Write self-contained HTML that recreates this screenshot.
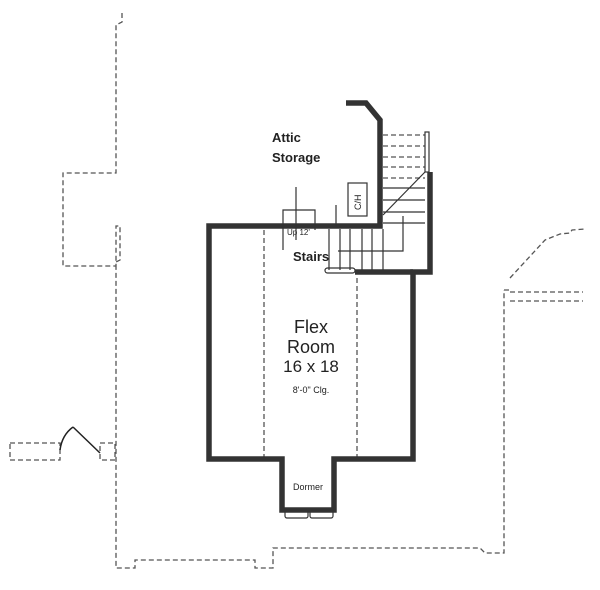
<!DOCTYPE html><html><head><style>body{margin:0;background:#fff}svg{display:block}text{font-family:"Liberation Sans",sans-serif;fill:#222}</style></head><body>
<svg width="600" height="590" viewBox="0 0 600 590" xmlns="http://www.w3.org/2000/svg">
<g fill="none" stroke="#555" stroke-width="1.3" stroke-dasharray="5,3">
<path d="M122 13V22L116 25V173H63V266H116V226H120V260L116 262V568H135V560H137L255 560V568H273V548H480L485 553H504V290"/>
<path d="M510 278L545 240L560 234L570 233L572 230L585 229"/>
<path d="M510 292H583M510 301H583M504 290L512 290"/>
<path d="M264 230V459M357 278V459"/>
<path d="M10 443H60V460H10Z M100 443H115V460H100Z"/>
<path d="M383 135H425M383 146H425M383 157H425M383 167H425M383 178H425"/>
</g>
<path d="M73 427Q62 435 60 450M73 427L100 453" stroke="#222" stroke-width="1.5" fill="none"/>
<g fill="none" stroke="#333" stroke-width="5.5" stroke-linejoin="miter">
<path d="M346 103H366L380 120V226H209V459H282V510H334V459H413V272H430V172"/>
<path d="M355 272H413"/>
</g>
<g fill="none" stroke="#333" stroke-width="1.2">
<path d="M383 188H425M383 200H425M383 212H425M383 223H425M383 215L425 172"/>
<path d="M329 229V270M340 229V270M350 229V270M362 229V270M372 229V270M383 229V270"/>
<path d="M338 251H403V216M296 240V187M336 226V205"/>
<rect x="348" y="183" width="19" height="33"/>
<path d="M283 250V210H315V230"/>
<rect x="325" y="268" width="30" height="5" rx="2.5"/>
<rect x="425" y="132" width="4" height="40"/>
<rect x="285" y="510" width="23" height="8" rx="2"/><rect x="310" y="510" width="23" height="8" rx="2"/>
</g>
<text x="272" y="142" font-size="13" font-weight="bold">Attic</text>
<text x="272" y="162" font-size="13" font-weight="bold">Storage</text>
<text x="361" y="210" font-size="9" transform="rotate(-90 361 210)">C/H</text>
<text x="287" y="235" font-size="8">Up 12'</text>
<text x="293" y="261" font-size="13" font-weight="bold">Stairs</text>
<text x="311" y="333" font-size="18" text-anchor="middle">Flex</text>
<text x="311" y="353" font-size="18" text-anchor="middle">Room</text>
<text x="311" y="372" font-size="17" text-anchor="middle">16 x 18</text>
<text x="311" y="393" font-size="9" text-anchor="middle">8'-0" Clg.</text>
<text x="308" y="490" font-size="9" text-anchor="middle">Dormer</text>
</svg></body></html>
